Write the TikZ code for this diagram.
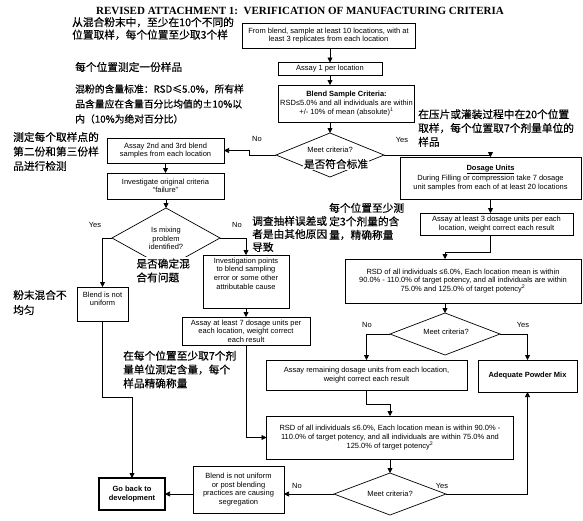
\documentclass[tikz,border=0pt]{standalone}
\usepackage{fontspec}
\setmainfont{Liberation Sans}
\newfontfamily\titlefont{Liberation Serif}
\newfontfamily\cjk[FakeBold=0.4]{Noto Sans CJK SC}
\usetikzlibrary{shapes.geometric,arrows.meta,calc}
\begin{document}
\begin{tikzpicture}[x=1pt,y=-1pt,
  box/.style={draw, line width=0.9pt, rectangle, inner sep=0pt, outer sep=0pt, align=center, font=\fontsize{7.5}{8.6}\selectfont},
  dia/.style={draw, line width=0.7pt, diamond, inner sep=0pt, outer sep=0pt},
  lbl/.style={inner sep=0pt, font=\fontsize{7.5}{8.6}\selectfont, align=center},
  cn/.style={inner sep=0pt, font=\cjk\fontsize{10.7}{13.8}\selectfont, align=left, anchor=west},
  arr/.style={line width=0.75pt, -{Triangle[length=5pt,width=5pt]}},
]
\useasboundingbox (0,0) rectangle (583,520);

% title
\node[inner sep=0pt, font=\titlefont\bfseries\fontsize{11}{12}\selectfont] (title) at (300,10.5) {REVISED ATTACHMENT 1:\ \ VERIFICATION OF MANUFACTURING CRITERIA};

% main column
\node[box, minimum width=173pt, minimum height=25pt] (b1) at (328.5,35.5) {From blend, sample at least 10 locations, with at\\least 3 replicates from each location};
\node[box, minimum width=104pt, minimum height=13pt] (b2) at (330,69) {Assay 1 per location};
\node[box, minimum width=136pt, minimum height=37pt] (b3) at (346.5,103.5) {\textbf{Blend Sample Criteria:}\\RSD≤5.0\% and all individuals are within\\+/- 10\% of mean (absolute)\textsuperscript{1}};
\node[dia, minimum width=108pt, minimum height=44pt] (d1) at (330,155) {};
\node[lbl] (d1t) at (330,150) {Meet criteria?};
\node[cn, fill=white, inner sep=1.2pt, anchor=center] (d1c) at (336,164) {是否符合标准};
\node[lbl] (n1) at (257,139) {No};
\node[lbl] (y1) at (402,140) {Yes};

% left branch
\node[box, minimum width=117pt, minimum height=25pt] (b4) at (165.5,150.5) {Assay 2nd and 3rd blend\\samples from each location};
\node[box, minimum width=117pt, minimum height=26pt] (b5) at (165.5,186) {Investigate original criteria\\“failure”};
\node[dia, minimum width=108pt, minimum height=60pt] (d2) at (166,238) {};
\node[lbl] (d2t) at (166,238.5) {Is mixing\\problem\\identified?};
\node[cn, fill=white, inner sep=1.2pt] (d2c) at (135,270.5) {是否确定混\\合有问题};
\node[lbl] (y2) at (95,225) {Yes};
\node[lbl] (n2) at (237,225) {No};
\node[box, minimum width=51pt, minimum height=34pt] (b6) at (102.5,304) {};
\node[lbl] (b6t) at (102.5,299) {Blend is not\\uniform};
\node[box, minimum width=86pt, minimum height=53pt] (b7) at (246,281.5) {};
\node[lbl] (b7t) at (246,273.5) {Investigation points\\to blend sampling\\error or some other\\attributable cause};
\node[box, minimum width=128pt, minimum height=28pt] (b8) at (246,331) {Assay at least 7 dosage units per\\each location, weight correct\\each result};

% right branch
\node[box, minimum width=181pt, minimum height=42pt] (b9) at (490.5,178) {\textbf{\underline{Dosage Units}}\\During Filling or compression take 7 dosage\\unit samples from each of at least 20 locations};
\node[box, minimum width=153pt, minimum height=22pt] (b10) at (496.5,224) {Assay at least 3 dosage units per each\\location, weight correct each result};
\node[box, minimum width=236pt, minimum height=44pt] (b11) at (463,281) {RSD of all individuals ≤6.0\%, Each location mean is within\\90.0\% - 110.0\% of target potency, and all individuals are within\\75.0\% and 125.0\% of target potency\textsuperscript{2}};
\node[dia, minimum width=110pt, minimum height=42pt] (d3) at (445,334) {};
\node[lbl] (d3t) at (446,332) {Meet criteria?};
\node[lbl] (n3) at (367,325) {No};
\node[lbl] (y3) at (523,325) {Yes};
\node[box, minimum width=201pt, minimum height=30pt] (b12) at (366.5,375) {Assay remaining dosage units from each location,\\weight correct each result};
\node[box, minimum width=99pt, minimum height=32pt] (b13) at (527.5,376) {\textbf{Adequate Powder Mix}};
\node[box, minimum width=247pt, minimum height=43pt] (b14) at (390,437.5) {RSD of all individuals ≤6.0\%, Each location mean is within 90.0\% -\\110.0\% of target potency, and all individuals are within 75.0\% and\\125.0\% of target potency\textsuperscript{2}};
\node[dia, minimum width=112pt, minimum height=42pt] (d4) at (390,494) {};
\node[lbl] (d4t) at (390,494) {Meet criteria?};
\node[lbl] (n4) at (297,486) {No};
\node[lbl] (y4) at (442,486) {Yes};
\node[box, minimum width=91pt, minimum height=47pt] (b15) at (238.5,489.5) {Blend is not uniform\\or post blending\\practices are causing\\segregation};
\node[box, line width=1.3pt, minimum width=66pt, minimum height=32pt] (b16) at (132,494) {\textbf{Go back to}\\\textbf{development}};

% Chinese annotations
\node[cn, font=\cjk\fontsize{10.7}{12.5}\selectfont] (c1) at (72,28.5) {从混合粉末中，至少在10个不同的\\位置取样，每个位置至少取3个样};
\node[cn] (c2) at (75,67) {每个位置测定一份样品};
\node[cn, font=\cjk\fontsize{9.8}{15}\selectfont] (c3) at (75,104) {混粉的含量标准：RSD≤5.0\%，所有样\\品含量应在含量百分比均值的±10\%以\\内（10\%为绝对百分比）};
\node[cn] (c4) at (418,128) {在压片或灌装过程中在20个位置\\取样，每个位置取7个剂量单位的\\样品};
\node[cn, font=\cjk\fontsize{10.7}{14.5}\selectfont] (c5) at (13,151.5) {测定每个取样点的\\第二份和第三份样\\品进行检测};
\node[cn, font=\cjk\fontsize{10.7}{13}\selectfont] (c6) at (252,234) {调查抽样误差或\\者是由其他原因\\导致};
\node[cn, font=\cjk\fontsize{10.7}{13.5}\selectfont] (c7) at (329,221.5) {每个位置至少测\\定3个剂量的含\\量，精确称量};
\node[cn, font=\cjk\fontsize{10.7}{15}\selectfont] (c8) at (13,302.5) {粉末混合不\\均匀};
\node[cn] (c9) at (123,369.5) {在每个位置至少取7个剂\\量单位测定含量，每个\\样品精确称量};

% connectors
\draw[arr] (b2.north |- b1.south) -- (b2.north);
\draw[arr] (b2.south) -- (b2.south |- b3.north);
\draw[arr] (d1.north |- b3.south) -- (d1.north);
\draw[arr] (d1.west) -- ++(-27,0) |- (b4.east);
\draw[arr] (d1.east) -| (b9.north);
\draw[arr] (b4.south) -- (b5.north);
\draw[arr] (d2.north |- b5.south) -- (d2.north);
\draw[arr] (d2.west) -| (b6.north);
\draw[arr] (d2.east) -| (b7.north);
\draw[arr] (b7.south) -- (b8.north);
\draw[arr] (b6.south) -- ++(0,76) -| (b16.north);
\draw[arr] (b8.south) |- (b14.west);
\draw[arr] (b9.south) -- (b9.south |- b10.north);
\draw[arr] (b9.south |- b10.south) -- ++(0,17) -| (d3.north |- b11.north);
\draw[arr] (d3.north |- b11.south) -- (d3.north);
\draw[arr] (d3.west) -| (b12.north);
\draw[arr] (d3.east) -| (b13.north);
\draw[arr] (b12.south) -- ++(0,14) -| (b14.north);
\draw[arr] (b14.south) -- (d4.north);
\draw[arr] (d4.west) -- (d4.west -| b15.east);
\draw[arr] (b15.west |- b16.east) -- (b16.east);
\draw[arr] (d4.east) -| (b13.south);
\end{tikzpicture}
\end{document}
